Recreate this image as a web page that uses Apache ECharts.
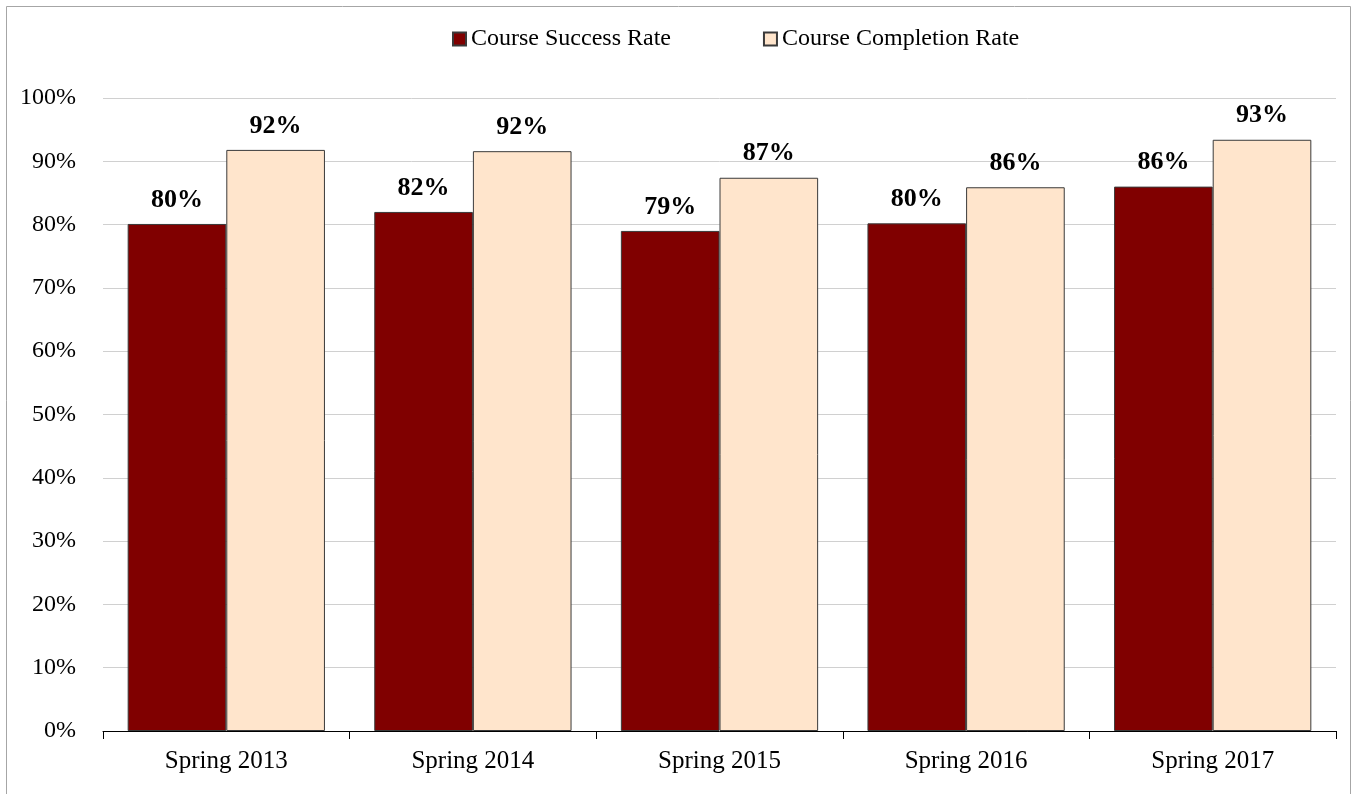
<!DOCTYPE html>
<html>
<head>
<meta charset="utf-8">
<script src="https://cdn.jsdelivr.net/npm/echarts@6/dist/echarts.min.js"></script>
<style>
html,body{margin:0;padding:0;background:#fff;}
#chart{width:1355px;height:794px;}
</style>
</head>
<body>
<div id="chart"></div>
<script>
const categories = ['Spring 2013', 'Spring 2014', 'Spring 2015', 'Spring 2016', 'Spring 2017'];
const successRate = [80.1, 82.0, 79.0, 80.2, 86.0];
const completionRate = [91.8, 91.6, 87.4, 85.9, 93.4];
const yTicks = [0, 10, 20, 30, 40, 50, 60, 70, 80, 90, 100];

const FONT = '"Liberation Serif", "Times New Roman", serif';
const chart = echarts.init(document.getElementById('chart'));
const labelStyle = {
  show: true,
  position: 'top',
  distance: 11,
  fontFamily: FONT,
  fontSize: 26,
  fontWeight: 'bold',
  color: '#000',
  formatter: p => Math.round(p.value) + '%'
};
chart.setOption({
  animation: false,
  graphic: [{
    type: 'rect',
    shape: { x: 6.5, y: 6.5, width: 1344, height: 800 },
    style: { fill: 'none', stroke: '#a6a6a6', lineWidth: 1 },
    silent: true
  }],
  legend: {
    top: 22,
    left: 447,
    icon: 'rect',
    itemWidth: 13,
    itemHeight: 13,
    itemGap: 92,
    textStyle: { fontFamily: FONT, fontSize: 24, color: '#000' },
    data: ['Course Success Rate', 'Course Completion Rate']
  },
  grid: { left: 103, right: 19, top: 98, bottom: 63, containLabel: false },
  xAxis: {
    type: 'category',
    data: categories,
    axisLine: { show: true, lineStyle: { color: '#000', width: 1 } },
    axisTick: { show: true, length: 8, lineStyle: { color: '#000' } },
    axisLabel: { fontFamily: FONT, fontSize: 25, color: '#000', margin: 18 }
  },
  yAxis: {
    type: 'value',
    min: yTicks[0],
    max: yTicks[yTicks.length - 1],
    interval: 10,
    axisLine: { show: false },
    axisTick: { show: false },
    splitLine: { lineStyle: { color: '#d0d0d0', width: 1 } },
    axisLabel: { fontFamily: FONT, fontSize: 24, color: '#000', margin: 27, formatter: '{value}%' }
  },
  series: [
    {
      name: 'Course Success Rate',
      type: 'bar',
      data: successRate,
      barGap: '0%',
      barCategoryGap: '20%',
      itemStyle: { color: '#800000', borderColor: '#3a3a3a', borderWidth: 1 },
      label: labelStyle
    },
    {
      name: 'Course Completion Rate',
      type: 'bar',
      data: completionRate,
      barGap: '0%',
      barCategoryGap: '20%',
      itemStyle: { color: '#FFE5CC', borderColor: '#3a3a3a', borderWidth: 1 },
      label: labelStyle
    }
  ]
});
</script>
</body>
</html>
